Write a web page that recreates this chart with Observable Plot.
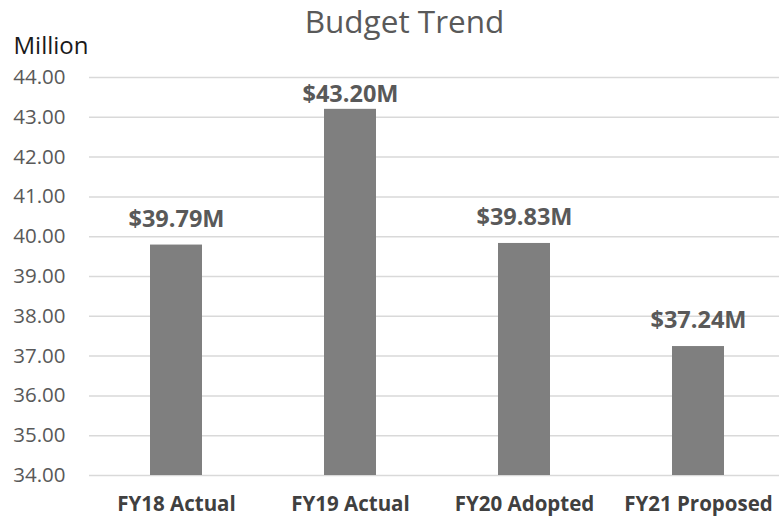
<!DOCTYPE html>
<html><head><meta charset="utf-8">
<script src="https://cdn.jsdelivr.net/npm/d3@7"></script>
<script src="https://cdn.jsdelivr.net/npm/@observablehq/plot@0.6"></script>
<style>body{margin:0;background:#fff}</style>
</head><body><div id="chart"></div>
<script>
const categories = ["FY18 Actual", "FY19 Actual", "FY20 Adopted", "FY21 Proposed"];
const values = [39.79, 43.20, 39.83, 37.24];
const valueLabels = ["$39.79M", "$43.20M", "$39.83M", "$37.24M"];
const yTicks = [34, 35, 36, 37, 38, 39, 40, 41, 42, 43, 44];
const title = "Budget Trend";
const unitLabel = "Million";

const yMin = yTicks[0], yMax = yTicks[yTicks.length - 1];
const data = categories.map((c, i) => ({category: c, value: values[i], label: valueLabels[i]}));

const chart = Plot.plot({
  width: 779, height: 520,
  marginLeft: 89, marginRight: 0, marginTop: 77, marginBottom: 45,
  style: {fontFamily: "Open Sans", background: "#fff"},
  x: {domain: categories, range: [89, 786], paddingInner: 0.7, paddingOuter: 0.35, label: null},
  y: {domain: [yMin, yMax], label: null},
  marks: [
    Plot.gridY(yTicks, {stroke: "#d9d9d9", strokeOpacity: 1, strokeWidth: 1.5}),
    Plot.barY(data, {x: "category", y1: () => yMin, y2: "value", fill: "#7f7f7f"}),
    // labels sit above the bar, but are kept inside the plot area (like Excel)
    Plot.text(data, {x: "category", y: d => Math.min(d.value + 0.65, yMax - 0.43), text: "label",
      lineAnchor: "middle", fontWeight: "bold", fontSize: 23.5, fill: "#595959"}),
    Plot.axisY(yTicks, {tickSize: 0, tickPadding: 24, tickFormat: d3.format(".2f"),
      fontSize: 20.5, fill: "#595959", label: null}),
    Plot.axisX({tickSize: 0, tickPadding: 21, fontSize: 20.5, fontWeight: "bold",
      fill: "#404040", label: null}),
    Plot.text([title], {frameAnchor: "top", lineAnchor: "middle", dx: -30, dy: -55,
      fontSize: 31.5, fill: "#595959"}),
    Plot.text([unitLabel], {frameAnchor: "top-left", lineAnchor: "middle", dx: -76, dy: -31,
      textAnchor: "start", fontSize: 24, fill: "#1a1a1a"})
  ]
});
document.getElementById("chart").append(chart);
</script>
</body></html>
